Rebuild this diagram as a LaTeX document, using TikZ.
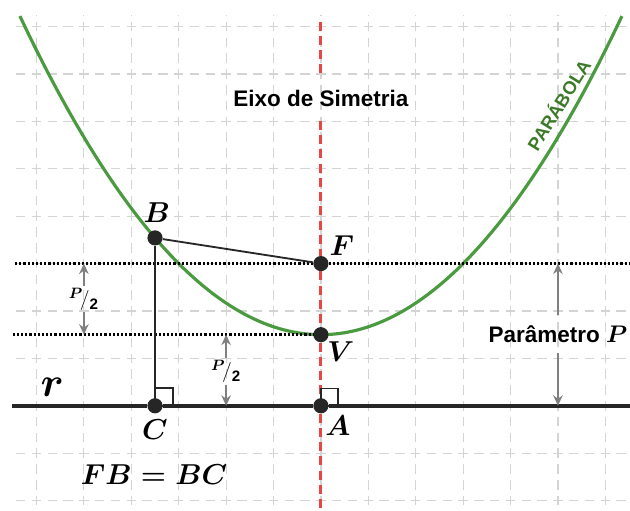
\documentclass[tikz,border=0pt]{standalone}
\usepackage{amsmath}
\usepackage{fontspec}
\setmainfont{Liberation Sans}
\usetikzlibrary{arrows.meta}
\definecolor{parabgreen}{HTML}{4A9A3F}
\definecolor{labgreen}{HTML}{3C7A28}
\definecolor{axisred}{HTML}{E84545}

\begin{document}
\begin{tikzpicture}[
  gridln/.style={draw=black!17, line width=0.7pt, dash pattern=on 0.2cm off 0.1333cm},
  symaxis/.style={draw=axisred, line width=1.8pt, dash pattern=on 0.19cm off 0.11cm},
  dotln/.style={draw=black, line width=1.7pt, dash pattern=on 1.3pt off 1.2pt},
  rline/.style={draw=black!85, line width=2.4pt},
  parab/.style={draw=parabgreen, line width=1.9pt},
  seg/.style={draw=black!85, line width=1.1pt},
  pt/.style={circle, fill=black!85, minimum size=0.32cm, inner sep=0pt},
  garrow/.style={-{Stealth[length=2.2mm,width=2mm]}, draw=black!50, line width=1.2pt},
  ptlbl/.style={font=\fontsize{16}{18}\selectfont, inner sep=0pt},
  half/.style={font=\fontsize{13}{15}\selectfont, inner sep=1pt},
  title/.style={font=\fontsize{13.5}{15}\selectfont\bfseries},
]
\useasboundingbox (-6.77,-2.2) rectangle (6.52,8.56);

% ---------- grid ----------
\foreach \gy in {-2,...,8}
  \draw[gridln] (-6.4333,\gy) -- (6.6,\gy);
\foreach \gx in {-6,...,6}
  \draw[gridln] (\gx,-2.4333) -- (\gx,8.25);

% ---------- parabola y = 1.5 + x^2/6 ----------
\draw[parab] plot[domain=-6.35:6.35, samples=80, smooth] (\x,{1.5+\x*\x/6});
\node[font=\fontsize{11}{13}\selectfont\bfseries, text=labgreen, rotate=58] (plbl)
  at (5.0,6.36) {PARÁBOLA};

% ---------- points ----------
\node[pt] (A) at (0,0) {};
\node[pt] (V) at (0,1.5) {};
\node[pt] (F) at (0,3) {};
\node[pt] (B) at (-3.5,3.5417) {};
\node[pt] (C) at (-3.5,0) {};

\coordinate (rl) at (-6.52,0);
\coordinate (rr) at (6.6,0);
\coordinate (Fl) at (-6.45,3);
\coordinate (Fr) at (6.6,3);
\coordinate (Vl) at (-6.5,1.5);
\coordinate (axtop) at (0,8.1);
\coordinate (axbot) at (0,-2.3);

% ---------- lines ----------
\draw[rline] (rl) -- (C) -- (A) -- (rr);
\draw[dotln] (Fl) -- (F) -- (Fr);
\draw[dotln] (Vl) -- (V);

% ---------- axis of symmetry ----------
\node[title, minimum height=0.95cm] (eixo) at (0,6.49) {Eixo de Simetria};
\draw[symaxis] (axtop) -- (eixo.north);
\draw[symaxis] (eixo.south) -- (F) -- (V) -- (A) -- (axbot);

% ---------- FB and BC ----------
\draw[seg] (B) -- (F);
\draw[seg] (B) -- (C);
\draw[seg, line width=0.9pt] (C.center) rectangle ++(0.38,0.38);
\draw[seg, line width=0.9pt] (A.center) rectangle ++(0.36,0.36);

% ---------- labels ----------
\node[ptlbl] (Blbl) at (-3.46,4.08) {$\boldsymbol{B}$};
\node[ptlbl] (Flbl) at (0.44,3.37) {$\boldsymbol{F}$};
\node[ptlbl] (Vlbl) at (0.42,1.14) {$\boldsymbol{V}$};
\node[ptlbl] (Albl) at (0.36,-0.42) {$\boldsymbol{A}$};
\node[ptlbl] (Clbl) at (-3.5,-0.5) {$\boldsymbol{C}$};
\node[font=\fontsize{26}{28}\selectfont, inner sep=0pt, anchor=base] (rlbl)
  at (-5.67,0.19) {$\boldsymbol{r}$};
\node[font=\fontsize{17}{20}\selectfont] (eq) at (-3.52,-1.45) {$\boldsymbol{FB=BC}$};

% ---------- distances ----------
\node[half] (p1) at (-5,2.25) {$^{\boldsymbol{P}}\!/_{\mathbf{2}}$};
\draw[garrow] (p1.north) -- (p1.north |- F);
\draw[garrow] (p1.south) -- (p1.south |- V);

\node[half] (p2) at (-2,0.72) {$^{\boldsymbol{P}}\!/_{\mathbf{2}}$};
\draw[garrow] (p2.north) -- (p2.north |- V);
\draw[garrow] (p2.south) -- (p2.south |- A);

\node[title, inner sep=6pt] (param) at (5,1.52) {Parâmetro $\boldsymbol{P}$};
\draw[garrow] (param.north) -- (param.north |- F);
\draw[garrow] (param.south) -- (param.south |- A);

\end{tikzpicture}
\end{document}
